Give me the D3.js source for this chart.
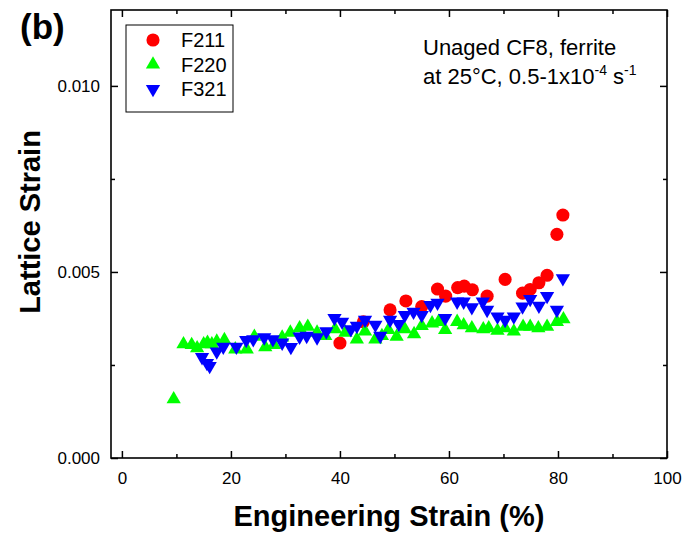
<!DOCTYPE html>
<html>
<head>
<meta charset="utf-8">
<script src="https://cdn.jsdelivr.net/npm/d3@7"></script>
<style>
  body { margin: 0; background: #fff; }
  svg { display: block; font-family: 'Liberation Sans', Arial, sans-serif; }
</style>
</head>
<body>
<svg id="chart" width="692" height="535"></svg>
<script>
// F211 (red circles)
const f211X = [40.0, 44.3, 49.2, 52.1, 55.0, 57.9, 59.4, 61.6, 62.8, 64.3, 67.0, 70.3, 73.5, 74.9, 76.5, 78.0, 79.8, 80.9];
const f211Y = [0.00309, 0.00366, 0.00398, 0.00422, 0.00407, 0.00454, 0.00435, 0.00458, 0.00462, 0.00452, 0.00435, 0.00480, 0.00443, 0.00453, 0.00471, 0.00491, 0.00601, 0.00653];

// F220 (green up triangles)
const f220X = [9.5, 11.3, 12.8, 13.8, 15.0, 15.7, 16.5, 17.4, 18.8, 20.8, 22.9, 24.3, 26.3, 27.9, 29.4, 30.9, 32.6, 34.1, 35.8, 37.3,
  39.1, 41.0, 43.1, 44.6, 46.5, 47.7, 48.9, 50.4, 51.9, 53.6, 55.0, 56.9, 58.1, 59.3, 61.5, 62.7, 64.2, 66.3, 67.3, 68.9,
  70.3, 71.9, 73.6, 74.9, 76.4, 78.0, 79.8, 81.0];
const f220Y = [0.00158, 0.00306, 0.00304, 0.00295, 0.00306, 0.00310, 0.00306, 0.00313, 0.00317, 0.00292, 0.00292, 0.00326, 0.00298, 0.00304, 0.00324, 0.00337, 0.00349, 0.00353, 0.00337, 0.00328,
  0.00346, 0.00337, 0.00319, 0.00340, 0.00319, 0.00328, 0.00344, 0.00326, 0.00346, 0.00333, 0.00355, 0.00362, 0.00366, 0.00344, 0.00366, 0.00357, 0.00349, 0.00346, 0.00349, 0.00342,
  0.00349, 0.00340, 0.00353, 0.00353, 0.00349, 0.00353, 0.00366, 0.00373];

// F321 (blue down triangles)
const f321X = [14.7, 15.6, 16.1, 17.4, 18.6, 21.0, 22.8, 24.1, 26.1, 27.7, 29.4, 31.0, 32.6, 33.9, 35.8, 37.5,
  39.0, 40.4, 42.0, 43.1, 44.6, 46.5, 47.4, 49.2, 50.8, 51.9, 53.5, 55.0, 56.6, 57.9, 59.3, 61.5, 62.7, 64.2, 66.2, 67.0, 68.9,
  70.3, 71.9, 73.5, 74.9, 76.5, 78.0, 79.8, 80.9];
const f321Y = [0.00271, 0.00255, 0.00247, 0.00286, 0.00299, 0.00299, 0.00317, 0.00319, 0.00324, 0.00319, 0.00310, 0.00298, 0.00326, 0.00328, 0.00324, 0.00340,
  0.00376, 0.00366, 0.00346, 0.00355, 0.00371, 0.00358, 0.00328, 0.00371, 0.00360, 0.00384, 0.00393, 0.00384, 0.00411, 0.00417, 0.00376, 0.00420, 0.00420, 0.00405, 0.00420, 0.00398, 0.00380,
  0.00371, 0.00380, 0.00407, 0.00427, 0.00409, 0.00435, 0.00398, 0.00483];

const xTicks = [0, 20, 40, 60, 80, 100];
const xMinor = [10, 30, 50, 70, 90];
const yTicks = [0, 0.005, 0.010];
const yMinor = [0.0025, 0.0075];

const seriesNames = ['F211', 'F220', 'F321'];
const colors = ['#ff0000', '#00ff00', '#0000ff'];

const plot = { left: 111, right: 667, top: 10, bottom: 458 };

const x = d3.scaleLinear().domain([-2, 100]).range([plot.left, plot.right]);
const y = d3.scaleLinear().domain([0, 0.01204]).range([plot.bottom, plot.top]);

const svg = d3.select('#chart');

const circle = d3.symbol().type(d3.symbolCircle).size(135);
const tri = d3.symbol().type(d3.symbolTriangle).size(88);

const series = [
  { xs: f211X, ys: f211Y, shape: 'circle' },
  { xs: f220X, ys: f220Y, shape: 'up' },
  { xs: f321X, ys: f321Y, shape: 'down' }
];

const markerPath = s => s === 'circle' ? circle() : tri();
const markerRot = s => s === 'down' ? ' rotate(180)' : '';

series.forEach((s, i) => {
  svg.append('g')
    .selectAll('path')
    .data(s.xs.map((v, j) => [v, s.ys[j]]))
    .join('path')
    .attr('d', markerPath(s.shape))
    .attr('transform', d => `translate(${x(d[0])},${y(d[1])})${markerRot(s.shape)}`)
    .attr('fill', colors[i]);
});

// axes, ticks inward
const axisStyle = g => {
  g.select('.domain').remove();
  g.selectAll('.tick line').attr('stroke', '#000').attr('stroke-width', 1.5);
  g.selectAll('text').attr('font-size', 17).attr('fill', '#000');
};

svg.append('g')
  .attr('transform', `translate(0,${plot.bottom})`)
  .call(d3.axisBottom(x).tickValues(xTicks).tickSize(-7).tickPadding(14).tickFormat(d3.format('d')))
  .call(axisStyle);
svg.append('g')
  .attr('transform', `translate(0,${plot.bottom})`)
  .call(d3.axisBottom(x).tickValues(xMinor).tickSize(-4).tickFormat(''))
  .call(axisStyle);
svg.append('g')
  .attr('transform', `translate(0,${plot.top})`)
  .call(d3.axisTop(x).tickValues(xTicks).tickSize(-7).tickFormat(''))
  .call(axisStyle);
svg.append('g')
  .attr('transform', `translate(0,${plot.top})`)
  .call(d3.axisTop(x).tickValues(xMinor).tickSize(-4).tickFormat(''))
  .call(axisStyle);

svg.append('g')
  .attr('transform', `translate(${plot.left},0)`)
  .call(d3.axisLeft(y).tickValues(yTicks).tickSize(-7).tickPadding(11).tickFormat(d3.format('.3f')))
  .call(axisStyle);
svg.append('g')
  .attr('transform', `translate(${plot.left},0)`)
  .call(d3.axisLeft(y).tickValues(yMinor).tickSize(-4).tickFormat(''))
  .call(axisStyle);
svg.append('g')
  .attr('transform', `translate(${plot.right},0)`)
  .call(d3.axisRight(y).tickValues(yTicks).tickSize(-7).tickFormat(''))
  .call(axisStyle);
svg.append('g')
  .attr('transform', `translate(${plot.right},0)`)
  .call(d3.axisRight(y).tickValues(yMinor).tickSize(-4).tickFormat(''))
  .call(axisStyle);

svg.append('rect')
  .attr('x', plot.left).attr('y', plot.top)
  .attr('width', plot.right - plot.left).attr('height', plot.bottom - plot.top)
  .attr('fill', 'none').attr('stroke', '#000').attr('stroke-width', 1.6);

// axis titles
svg.append('text')
  .attr('x', (plot.left + plot.right) / 2).attr('y', 526)
  .attr('text-anchor', 'middle')
  .attr('font-size', 29).attr('font-weight', 'bold')
  .text('Engineering Strain (%)');

svg.append('text')
  .attr('transform', 'translate(40,222) rotate(-90)')
  .attr('text-anchor', 'middle')
  .attr('font-size', 29).attr('font-weight', 'bold')
  .text('Lattice Strain');

svg.append('text')
  .attr('x', 20).attr('y', 39)
  .attr('font-size', 35).attr('font-weight', 'bold')
  .text('(b)');

// legend
const legend = svg.append('g');
legend.append('rect')
  .attr('x', 126).attr('y', 25).attr('width', 107).attr('height', 87)
  .attr('fill', '#fff').attr('stroke', '#000').attr('stroke-width', 1);

seriesNames.forEach((name, i) => {
  const ly = 40 + i * 24.5;
  legend.append('path')
    .attr('d', markerPath(series[i].shape))
    .attr('transform', `translate(153,${ly})${markerRot(series[i].shape)}`)
    .attr('fill', colors[i]);
  legend.append('text')
    .attr('x', 181).attr('y', ly + 7)
    .attr('font-size', 20)
    .text(name);
});

// annotation
const note = svg.append('g').attr('font-size', 22);
note.append('text').attr('x', 423).attr('y', 55).text('Unaged CF8, ferrite');
const l2 = note.append('text').attr('x', 423).attr('y', 84);
l2.append('tspan').text('at 25°C, 0.5-1x10');
l2.append('tspan').attr('font-size', 14).attr('dy', -9).text('-4');
l2.append('tspan').attr('dy', 9).text(' s');
l2.append('tspan').attr('font-size', 14).attr('dy', -9).text('-1');
</script>
</body>
</html>
